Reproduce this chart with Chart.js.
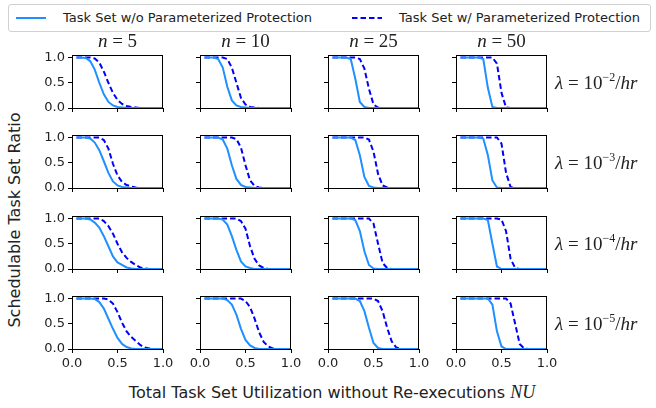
<!DOCTYPE html>
<html>
<head>
<meta charset="utf-8">
<script src="https://cdn.jsdelivr.net/npm/chart.js@4.4.1/dist/chart.umd.min.js"></script>
<style>
  html, body { margin: 0; padding: 0; background: #fff; }
  #fig { position: relative; width: 656px; height: 408px; overflow: hidden; font-family: "DejaVu Sans", sans-serif; color: #222; }
  #fig canvas { position: absolute; }
  .txt { position: absolute; white-space: nowrap; }
  .math { font-family: "Liberation Serif", "DejaVu Serif", serif; font-size: 19px; }
  .math i { font-style: italic; }
  .math sup { font-size: 12px; vertical-align: 0; position: relative; top: -8px; }
  #legend { position: absolute; left: 8px; top: 4px; width: 643px; height: 28px; border: 1px solid #d0d0d0; border-radius: 3px; box-sizing: border-box; }
  #legend .item { position: absolute; top: 5px; font-size: 13px; }
  #legend svg { position: absolute; top: 3px; }
</style>
</head>
<body>
<div id="fig">
  <div id="legend"></div>
</div>
<script>
// utilization grid (x)
const X = [0.05, 0.1, 0.15, 0.2, 0.25, 0.3, 0.35, 0.4, 0.45, 0.5,
           0.55, 0.6, 0.65, 0.7, 0.75, 0.8, 0.85, 0.9, 0.95, 1.0]

const N_VALUES = ['5', '10', '25', '50']
const LAMBDA_EXP = ['-2', '-3', '-4', '-5']
const X_TICKS = [0, 0.5, 1]
const Y_TICKS = [0, 0.5, 1]

const SERIES_NAMES = ['Task Set w/o Parameterized Protection', 'Task Set w/ Parameterized Protection']

// w/o protection, one list per n (5, 10, 25, 50)
const wo_e2 = [
  [1,1,.99,.93,.76,.5,.27,.12,.05,.02,.01,0,0,0,0,0,0,0,0,0],
  [1,1,1,.97,.8,.42,.15,.05,.02,.01,0,0,0,0,0,0,0,0,0,0],
  [1,1,1,1,.97,.58,.12,.02,0,0,0,0,0,0,0,0,0,0,0,0],
  [1,1,1,1,1,.97,.4,.02,0,0,0,0,0,0,0,0,0,0,0,0],
]
const wo_e3 = [
  [1,1,1,.98,.9,.75,.53,.3,.13,.05,.02,.01,0,0,0,0,0,0,0,0],
  [1,1,1,1,.96,.78,.45,.18,.06,.02,.01,0,0,0,0,0,0,0,0,0],
  [1,1,1,1,1,.95,.65,.22,.04,.01,0,0,0,0,0,0,0,0,0,0],
  [1,1,1,1,1,.98,.65,.15,.01,0,0,0,0,0,0,0,0,0,0,0],
]
const wo_e4 = [
  [1,1,1,.98,.92,.82,.65,.45,.25,.13,.08,.03,.01,0,0,0,0,0,0,0],
  [1,1,1,1,.98,.88,.65,.38,.15,.05,.02,0,0,0,0,0,0,0,0,0],
  [1,1,1,1,1,.97,.75,.35,.08,.01,0,0,0,0,0,0,0,0,0,0],
  [1,1,1,1,1,1,.97,.5,.05,0,0,0,0,0,0,0,0,0,0,0],
]
const wo_e5 = [
  [1,1,1,1,.99,.93,.8,.6,.4,.22,.1,.04,.01,0,0,0,0,0,0,0],
  [1,1,1,1,1,.97,.88,.68,.4,.18,.07,.02,0,0,0,0,0,0,0,0],
  [1,1,1,1,1,1,.95,.75,.42,.12,.02,0,0,0,0,0,0,0,0,0],
  [1,1,1,1,1,1,1,.88,.35,.05,0,0,0,0,0,0,0,0,0,0],
]

// w/ parameterized protection
const w_e2 = [
  [1,1,1,1,.98,.9,.72,.5,.3,.16,.08,.04,.02,.01,0,0,0,0,0,0],
  [1,1,1,1,1,.97,.8,.5,.2,.07,.02,.01,0,0,0,0,0,0,0,0],
  [1,1,1,1,1,1,.97,.78,.38,.07,.01,0,0,0,0,0,0,0,0,0],
  [1,1,1,1,1,1,1,1,.88,.3,.01,0,0,0,0,0,0,0,0,0],
]
const w_e3 = [
  [1,1,1,1,1,1,.95,.78,.48,.25,.12,.06,.03,.01,0,0,0,0,0,0],
  [1,1,1,1,1,1,1,.97,.8,.45,.15,.04,.01,0,0,0,0,0,0,0],
  [1,1,1,1,1,1,1,1,.96,.72,.28,.05,.01,0,0,0,0,0,0,0],
  [1,1,1,1,1,1,1,1,1,.88,.3,.02,0,0,0,0,0,0,0,0],
]
const w_e4 = [
  [1,1,1,1,1,1,.95,.85,.7,.5,.33,.22,.14,.08,.03,.01,0,0,0,0],
  [1,1,1,1,1,1,1,1,.95,.8,.45,.2,.07,.02,0,0,0,0,0,0],
  [1,1,1,1,1,1,1,1,1,.9,.5,.12,.02,0,0,0,0,0,0,0],
  [1,1,1,1,1,1,1,1,1,.98,.75,.2,.02,0,0,0,0,0,0,0],
]
const w_e5 = [
  [1,1,1,1,1,1,1,.98,.9,.73,.52,.35,.24,.16,.08,.03,.01,0,0,0],
  [1,1,1,1,1,1,1,1,1,.95,.83,.6,.33,.14,.05,.01,0,0,0,0],
  [1,1,1,1,1,1,1,1,1,1,.95,.75,.42,.15,.03,0,0,0,0,0],
  [1,1,1,1,1,1,1,1,1,1,1,.9,.5,.1,.01,0,0,0,0,0],
]

const woRows = [wo_e2, wo_e3, wo_e4, wo_e5]
const wRows = [w_e2, w_e3, w_e4, w_e5]

const COLOR_WO = '#1e90ff'
const COLOR_W = '#0000ff'
const DASH = [5.5, 3]

// plot box geometry
const COL_LEFT = [72, 200, 328, 456]
const ROW_TOP = [55, 135, 216, 296]
const PLOT_W = 91
const PLOT_H = 53
const PAD_L = 40, PAD_T = 8, PAD_R = 16, PAD_B = 24

const fig = document.getElementById('fig')

// draw the full box around the plot area
const frame = {
  id: 'frame',
  afterDraw(chart) {
    const {ctx, chartArea: a} = chart
    ctx.save()
    ctx.strokeStyle = '#000'
    ctx.lineWidth = 1
    ctx.strokeRect(Math.round(a.left) + 0.5, Math.round(a.top) + 0.5,
                   Math.round(a.width) - 1, Math.round(a.height))
    ctx.restore()
  },
}

const tickFont = {family: 'DejaVu Sans', size: 13}

function makePanel(r, c) {
  const canvas = document.createElement('canvas')
  canvas.width = PAD_L + PLOT_W + PAD_R
  canvas.height = PAD_T + PLOT_H + PAD_B
  canvas.style.left = (COL_LEFT[c] - PAD_L) + 'px'
  canvas.style.top = (ROW_TOP[r] - PAD_T) + 'px'
  fig.appendChild(canvas)

  const pts = (ys) => X.map((x, i) => ({x, y: ys[i]}))

  new Chart(canvas, {
    type: 'line',
    data: {
      datasets: [
        {label: SERIES_NAMES[0], data: pts(woRows[r][c]), borderColor: COLOR_WO,
         borderWidth: 2, pointRadius: 0, tension: 0, fill: false},
        {label: SERIES_NAMES[1], data: pts(wRows[r][c]), borderColor: COLOR_W,
         borderWidth: 2, borderDash: DASH, pointRadius: 0, tension: 0, fill: false},
      ],
    },
    options: {
      responsive: false,
      animation: false,
      devicePixelRatio: 1,
      layout: {padding: {left: 0, top: PAD_T, right: PAD_R, bottom: 0}},
      plugins: {legend: {display: false}, tooltip: {enabled: false}},
      scales: {
        x: {
          type: 'linear', min: 0, max: 1,
          afterBuildTicks: (s) => { s.ticks = X_TICKS.map((v) => ({value: v})) },
          afterFit: (s) => { s.height = PAD_B; s.paddingLeft = 0; s.paddingRight = 0 },
          ticks: {display: r === 3, padding: 3, color: '#222', font: tickFont,
                  maxRotation: 0, callback: (v) => Number(v).toFixed(1)},
          grid: {drawOnChartArea: false, tickLength: 4, color: '#000'},
          border: {color: '#000'},
        },
        y: {
          min: 0, max: 1.05,
          afterBuildTicks: (s) => { s.ticks = Y_TICKS.map((v) => ({value: v})) },
          afterFit: (s) => { s.width = PAD_L; s.paddingTop = 0; s.paddingBottom = 0 },
          ticks: {display: c === 0, padding: 3, color: '#222', font: tickFont,
                  callback: (v) => Number(v).toFixed(1)},
          grid: {drawOnChartArea: false, tickLength: 4, color: '#000'},
          border: {color: '#000'},
        },
      },
    },
    plugins: [frame],
  })
}

ROW_TOP.forEach((_, r) => COL_LEFT.forEach((_, c) => makePanel(r, c)))

// column titles
N_VALUES.forEach((n, c) => {
  const d = document.createElement('div')
  d.className = 'txt math'
  d.innerHTML = `<i>n</i> = ${n}`
  d.style.left = (COL_LEFT[c] + PLOT_W / 2) + 'px'
  d.style.top = '30px'
  d.style.transform = 'translateX(-50%)'
  fig.appendChild(d)
})

// row labels
LAMBDA_EXP.forEach((e, r) => {
  const d = document.createElement('div')
  d.className = 'txt math'
  d.innerHTML = `<i>λ</i> = 10<sup>${e.replace('-', '−')}</sup>/<i>hr</i>`
  d.style.left = '555px'
  d.style.top = (ROW_TOP[r] + PLOT_H / 2 + 1) + 'px'
  d.style.transform = 'translateY(-50%)'
  fig.appendChild(d)
})

// axis titles
const xt = document.createElement('div')
xt.className = 'txt'
xt.style.cssText = 'left:332px;top:382px;font-size:16px;transform:translateX(-50%)'
xt.innerHTML = 'Total Task Set Utilization without Re-executions <span class="math" style="font-size:18px"><i>NU</i></span>'
fig.appendChild(xt)

const yt = document.createElement('div')
yt.className = 'txt'
yt.style.cssText = 'left:14px;top:220px;font-size:16px;transform:translate(-50%,-50%) rotate(-90deg)'
yt.textContent = 'Schedulable Task Set Ratio'
fig.appendChild(yt)

// legend
const legend = document.getElementById('legend')
const LEG_X = [6, 342]
SERIES_NAMES.forEach((name, i) => {
  const sw = document.createElementNS('http://www.w3.org/2000/svg', 'svg')
  sw.setAttribute('width', 32); sw.setAttribute('height', 20)
  sw.style.left = LEG_X[i] + 'px'
  const ln = document.createElementNS('http://www.w3.org/2000/svg', 'line')
  ln.setAttribute('x1', 1); ln.setAttribute('x2', 31); ln.setAttribute('y1', 10); ln.setAttribute('y2', 10)
  ln.setAttribute('stroke', i === 0 ? COLOR_WO : COLOR_W)
  ln.setAttribute('stroke-width', 2)
  if (i === 1) ln.setAttribute('stroke-dasharray', DASH.join(' '))
  sw.appendChild(ln)
  legend.appendChild(sw)
  const t = document.createElement('div')
  t.className = 'item'
  t.style.left = (LEG_X[i] + 48) + 'px'
  t.textContent = name
  legend.appendChild(t)
})
</script>
</body>
</html>
